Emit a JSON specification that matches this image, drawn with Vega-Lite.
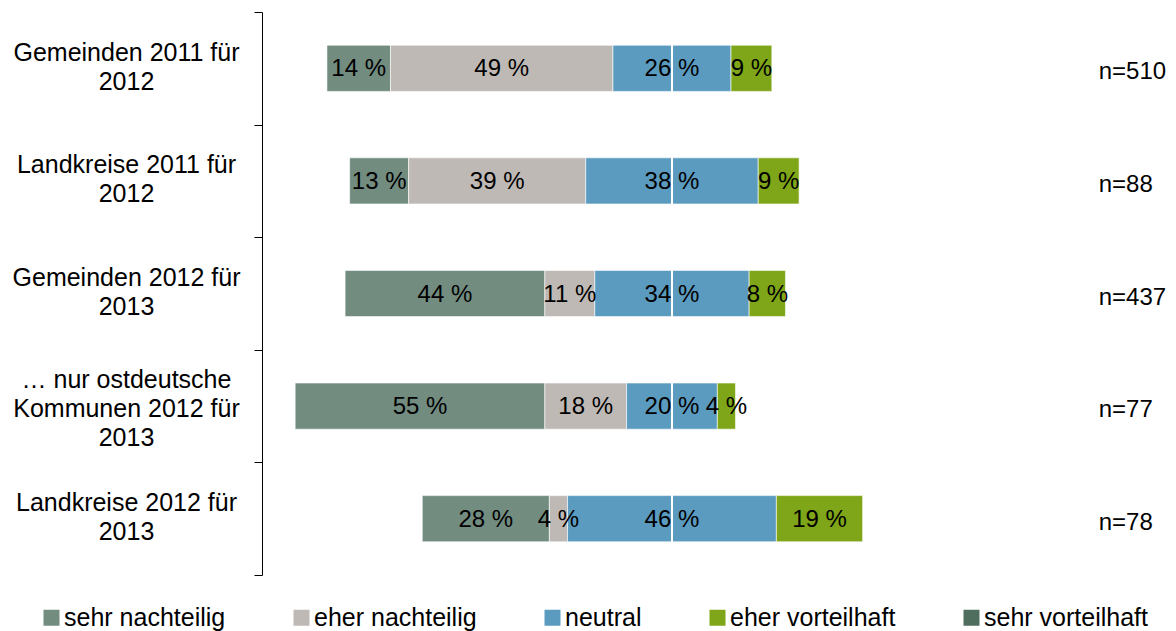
{
  "$schema": "https://vega.github.io/schema/vega-lite/v6.json",
  "width": 913,
  "height": 563,
  "autosize": {"type": "none"},
  "padding": {"left": 262, "top": 12, "right": 1, "bottom": 56},
  "background": "white",
  "config": {
    "view": {"stroke": null},
    "font": "Liberation Sans",
    "axis": {"labelFont": "Liberation Sans", "labelColor": "black"},
    "legend": {"labelFont": "Liberation Sans", "labelColor": "black"}
  },
  "datasets": {
    "shares": [
      {"group": "Gemeinden 2011 für|2012", "cat": "sehr nachteilig", "value": 14},
      {"group": "Gemeinden 2011 für|2012", "cat": "eher nachteilig", "value": 49},
      {"group": "Gemeinden 2011 für|2012", "cat": "neutral", "value": 26},
      {"group": "Gemeinden 2011 für|2012", "cat": "eher vorteilhaft", "value": 9},
      {"group": "Landkreise 2011 für|2012", "cat": "sehr nachteilig", "value": 13},
      {"group": "Landkreise 2011 für|2012", "cat": "eher nachteilig", "value": 39},
      {"group": "Landkreise 2011 für|2012", "cat": "neutral", "value": 38},
      {"group": "Landkreise 2011 für|2012", "cat": "eher vorteilhaft", "value": 9},
      {"group": "Gemeinden 2012 für|2013", "cat": "sehr nachteilig", "value": 44},
      {"group": "Gemeinden 2012 für|2013", "cat": "eher nachteilig", "value": 11},
      {"group": "Gemeinden 2012 für|2013", "cat": "neutral", "value": 34},
      {"group": "Gemeinden 2012 für|2013", "cat": "eher vorteilhaft", "value": 8},
      {"group": "… nur ostdeutsche|Kommunen 2012 für|2013", "cat": "sehr nachteilig", "value": 55},
      {"group": "… nur ostdeutsche|Kommunen 2012 für|2013", "cat": "eher nachteilig", "value": 18},
      {"group": "… nur ostdeutsche|Kommunen 2012 für|2013", "cat": "neutral", "value": 20},
      {"group": "… nur ostdeutsche|Kommunen 2012 für|2013", "cat": "eher vorteilhaft", "value": 4},
      {"group": "Landkreise 2012 für|2013", "cat": "sehr nachteilig", "value": 28},
      {"group": "Landkreise 2012 für|2013", "cat": "eher nachteilig", "value": 4},
      {"group": "Landkreise 2012 für|2013", "cat": "neutral", "value": 46},
      {"group": "Landkreise 2012 für|2013", "cat": "eher vorteilhaft", "value": 19}
    ],
    "samples": [
      {"group": "Gemeinden 2011 für|2012", "n": "n=510"},
      {"group": "Landkreise 2011 für|2012", "n": "n=88"},
      {"group": "Gemeinden 2012 für|2013", "n": "n=437"},
      {"group": "… nur ostdeutsche|Kommunen 2012 für|2013", "n": "n=77"},
      {"group": "Landkreise 2012 für|2013", "n": "n=78"}
    ]
  },
  "layer": [
    {
      "data": {"name": "shares"},
      "transform": [
        {"calculate": "indexof(['sehr nachteilig','eher nachteilig','neutral','eher vorteilhaft','sehr vorteilhaft'], datum.cat)", "as": "ord"},
        {"calculate": "datum.ord < 2 ? datum.value : (datum.ord == 2 ? datum.value / 2 : 0)", "as": "leftPart"},
        {"joinaggregate": [{"op": "sum", "field": "leftPart", "as": "offset"}], "groupby": ["group"]},
        {"window": [{"op": "sum", "field": "value", "as": "cum"}], "sort": [{"field": "ord", "order": "ascending"}], "groupby": ["group"], "frame": [null, 0]},
        {"calculate": "datum.cum - datum.value - datum.offset", "as": "x0"},
        {"calculate": "datum.cum - datum.offset", "as": "x1"},
        {"calculate": "(datum.x0 + datum.x1) / 2", "as": "mid"},
        {"calculate": "datum.value + ' %'", "as": "lbl"}
      ],
      "layer": [
        {
          "mark": {"type": "bar", "stroke": "white", "strokeWidth": 1, "strokeOpacity": 0.6, "height": {"band": 0.41}},
          "encoding": {
            "y": {
              "field": "group", "type": "nominal",
              "sort": ["Gemeinden 2011 für|2012", "Landkreise 2011 für|2012", "Gemeinden 2012 für|2013", "… nur ostdeutsche|Kommunen 2012 für|2013", "Landkreise 2012 für|2013"],
              "scale": {"paddingInner": 0, "paddingOuter": 0},
              "axis": {
                "title": null,
                "labelExpr": "split(datum.label, '|')",
                "labelFontSize": 25,
                "labelAlign": "center",
                "labelBaseline": "middle",
                "labelLineHeight": 29,
                "labelPadding": 128,
                "labelLimit": 400,
                "labelOffset": {"condition": {"test": "indexof(datum.label, 'ostdeutsche') >= 0", "value": -27}, "value": -16},
                "tickBand": "extent",
                "tickSize": 8,
                "tickColor": "black",
                "domainColor": "black",
                "domainWidth": 1,
                "grid": false
              }
            },
            "x": {
              "field": "x0", "type": "quantitative",
              "scale": {"domain": [-90.3, 110.8], "nice": false, "zero": false},
              "axis": null
            },
            "x2": {"field": "x1"},
            "color": {
              "field": "cat", "type": "nominal",
              "scale": {
                "domain": ["sehr nachteilig", "eher nachteilig", "neutral", "eher vorteilhaft", "sehr vorteilhaft"],
                "range": ["#728C80", "#BFB9B5", "#5B9BC0", "#7FA518", "#506E5E"]
              },
              "legend": {
                "title": null,
                "orient": "none",
                "direction": "horizontal",
                "columns": 5,
                "legendX": -223,
                "legendY": 593,
                "padding": 0,
                "symbolType": "square",
                "symbolSize": 256,
                "symbolStrokeWidth": 0,
                "labelFontSize": 25,
                "labelOffset": 0,
                "columnPadding": 63,
                "labelLimit": 300
              }
            }
          }
        },
        {
          "mark": {"type": "rule", "color": "white", "strokeWidth": 1},
          "encoding": {"x": {"datum": 0}}
        },
        {
          "mark": {"type": "text", "fontSize": 24, "color": "black", "align": "center", "baseline": "middle", "dy": 1},
          "encoding": {
            "y": {"field": "group", "type": "nominal", "sort": ["Gemeinden 2011 für|2012", "Landkreise 2011 für|2012", "Gemeinden 2012 für|2013", "… nur ostdeutsche|Kommunen 2012 für|2013", "Landkreise 2012 für|2013"]},
            "x": {"field": "mid", "type": "quantitative"},
            "text": {"field": "lbl"}
          }
        }
      ]
    },
    {
      "data": {"name": "samples"},
      "mark": {"type": "text", "fontSize": 24, "color": "black", "align": "left", "baseline": "middle", "dy": 4},
      "encoding": {
        "y": {"field": "group", "type": "nominal", "sort": ["Gemeinden 2011 für|2012", "Landkreise 2011 für|2012", "Gemeinden 2012 für|2013", "… nur ostdeutsche|Kommunen 2012 für|2013", "Landkreise 2012 für|2013"]},
        "x": {"datum": 94, "type": "quantitative"},
        "text": {"field": "n"}
      }
    }
  ]
}
